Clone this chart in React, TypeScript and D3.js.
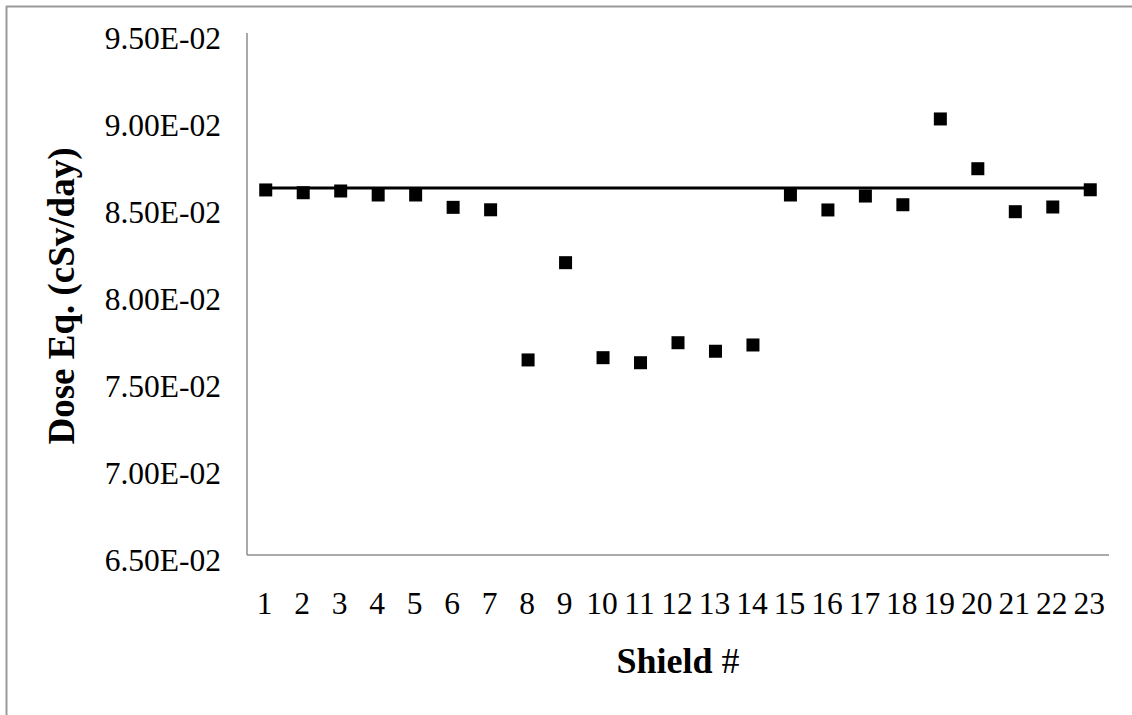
import React, { useEffect, useRef } from "react";
import * as d3 from "d3";

const shields: string[] = ["1","2","3","4","5","6","7","8","9","10","11","12","13","14","15","16","17","18","19","20","21","22","23"];
const doseEq: number[] = [
  0.08598, 0.08582, 0.08592, 0.08569, 0.08569, 0.08498, 0.08484, 0.07621, 0.08180, 0.07634,
  0.07605, 0.07720, 0.07671, 0.07707, 0.08569, 0.08483, 0.08563, 0.08513, 0.09006, 0.08720,
  0.08473, 0.08500, 0.08599,
];
const referenceValue: number[] = [0.08609];
const yTicks: number[] = [0.065, 0.070, 0.075, 0.080, 0.085, 0.090, 0.095];
const yTickLabels: string[] = ["6.50E-02","7.00E-02","7.50E-02","8.00E-02","8.50E-02","9.00E-02","9.50E-02"];

const W = 1132;
const H = 715;
const M = { left: 247, right: 1109, top: 33, bottom: 555 };
const FONT = "'Liberation Serif', 'Times New Roman', serif";

export default function App() {
  const ref = useRef<SVGSVGElement | null>(null);

  useEffect(() => {
    const svg = d3.select(ref.current);
    svg.selectAll("*").remove();

    svg.append("rect").attr("x", 0).attr("y", 0).attr("width", W).attr("height", H).attr("fill", "#fff");
    // outer border (top & left visible)
    svg.append("line").attr("x1", 6).attr("x2", W + 5).attr("y1", 6.5).attr("y2", 6.5).attr("stroke", "#9a9a9a").attr("stroke-width", 2);
    svg.append("line").attr("x1", 6.5).attr("x2", 6.5).attr("y1", 6).attr("y2", H + 5).attr("stroke", "#9a9a9a").attr("stroke-width", 2);

    const x = d3.scaleBand<string>().domain(shields).range([M.left, M.right]).paddingInner(0).paddingOuter(0);
    const y = d3.scaleLinear().domain([0.065, 0.095]).range([M.bottom, M.top]);
    const cx = (s: string) => (x(s) as number) + x.bandwidth() / 2;

    // axes
    svg.append("line").attr("x1", M.left).attr("x2", M.left).attr("y1", M.top).attr("y2", M.bottom).attr("stroke", "#8c8c8c").attr("stroke-width", 1.5);
    svg.append("line").attr("x1", M.left).attr("x2", M.right).attr("y1", M.bottom).attr("y2", M.bottom).attr("stroke", "#8c8c8c").attr("stroke-width", 1.5);

    // y tick labels
    svg.append("g").selectAll("text").data(yTicks).join("text")
      .attr("x", 221)
      .attr("y", (d) => y(d) + 9)
      .attr("text-anchor", "end")
      .attr("dominant-baseline", "middle")
      .attr("font-family", FONT)
      .attr("font-size", 31.5)
      .attr("fill", "#000")
      .text((d, i) => yTickLabels[i]);

    // x tick labels
    svg.append("g").selectAll("text").data(shields).join("text")
      .attr("x", (d) => cx(d) - 1)
      .attr("y", 607)
      .attr("text-anchor", "middle")
      .attr("dominant-baseline", "middle")
      .attr("font-family", FONT)
      .attr("font-size", 31.5)
      .attr("fill", "#000")
      .text((d) => d);

    // reference line
    const lineGen = d3.line<string>().x((d) => cx(d)).y(() => y(referenceValue[0]));
    svg.append("path")
      .attr("d", lineGen([shields[0], shields[shields.length - 1]]) as string)
      .attr("stroke", "#000")
      .attr("stroke-width", 3)
      .attr("fill", "none");

    // markers
    const ms = 13;
    svg.append("g").selectAll("rect").data(doseEq).join("rect")
      .attr("x", (d, i) => cx(shields[i]) - ms / 2)
      .attr("y", (d) => y(d) - ms / 2)
      .attr("width", ms)
      .attr("height", ms)
      .attr("fill", "#000");

    // axis titles
    const xt = svg.append("text")
      .attr("x", 678)
      .attr("y", 665)
      .attr("text-anchor", "middle")
      .attr("dominant-baseline", "middle")
      .attr("font-family", FONT)
      .attr("font-size", 36)
      .attr("fill", "#000");
    xt.append("tspan").attr("font-weight", "bold").text("Shield ");
    xt.append("tspan").attr("font-weight", "normal").text("#");

    svg.append("text")
      .attr("transform", "translate(66,296) rotate(-90)")
      .attr("text-anchor", "middle")
      .attr("dominant-baseline", "middle")
      .attr("font-family", FONT)
      .attr("font-size", 37)
      .attr("font-weight", "bold")
      .attr("fill", "#000")
      .text("Dose Eq. (cSv/day)");
  }, []);

  return (
    <div style={{ position: "fixed", left: 0, top: 0, width: W, height: H, background: "#fff" }}>
      <svg ref={ref} width={W} height={H} style={{ display: "block" }} />
    </div>
  );
}
